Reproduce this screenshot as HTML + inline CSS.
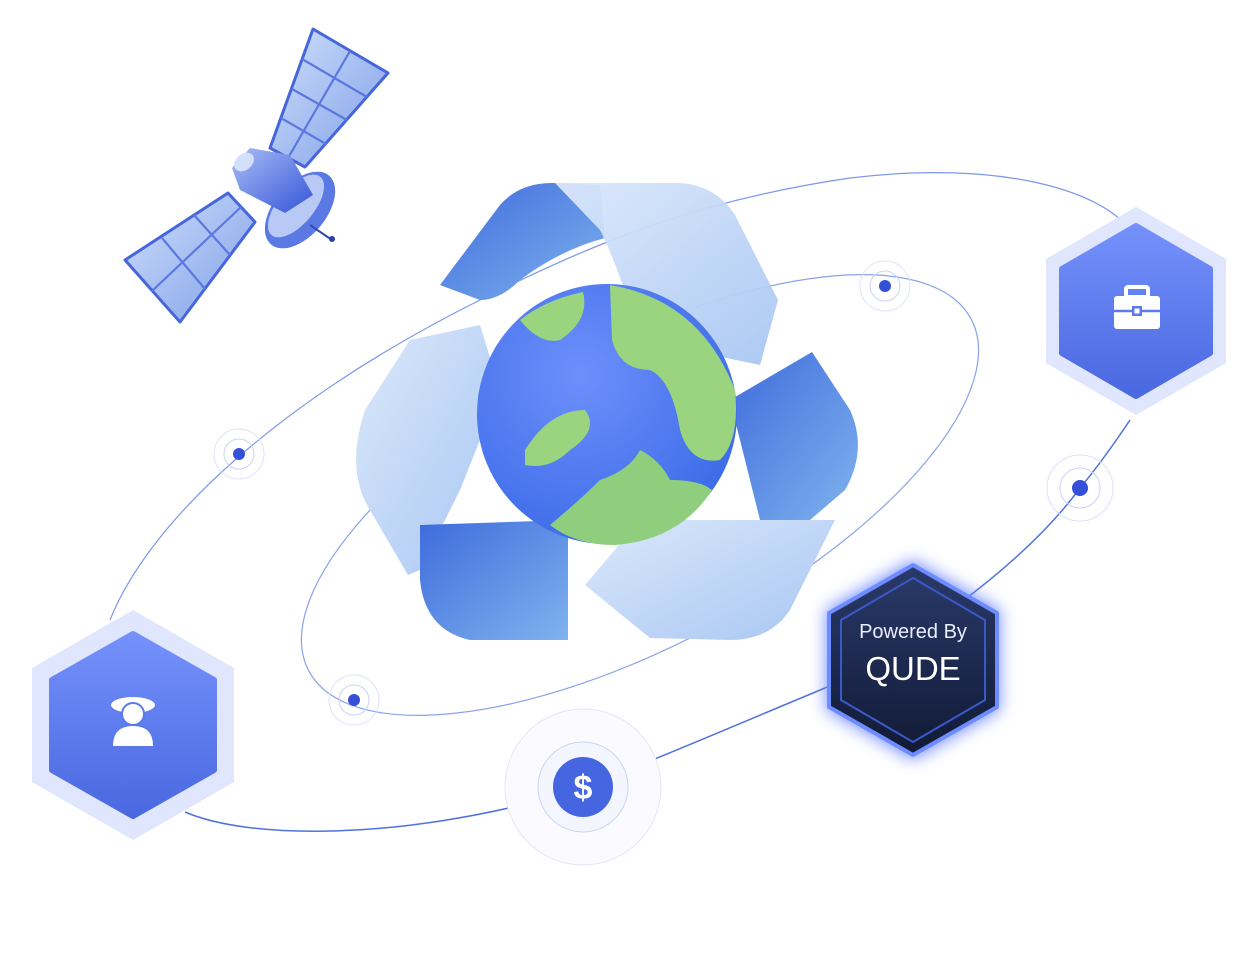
<!DOCTYPE html>
<html><head><meta charset="utf-8"><style>
html,body{margin:0;padding:0;background:#fff;}
svg{display:block;}
</style></head><body>
<svg width="1258" height="973" viewBox="0 0 1258 973" xmlns="http://www.w3.org/2000/svg">
<defs>
<linearGradient id="panel" x1="0" y1="0" x2="1" y2="1"><stop offset="0" stop-color="#cfe0fb"/><stop offset="1" stop-color="#7f9ee8"/></linearGradient>
<linearGradient id="hexg" x1="0" y1="0" x2="0" y2="1"><stop offset="0" stop-color="#7491fb"/><stop offset="1" stop-color="#4a68e0"/></linearGradient>
<linearGradient id="armA" x1="0" y1="0" x2="1" y2="1"><stop offset="0" stop-color="#3e6bdc"/><stop offset="1" stop-color="#7fb3ee"/></linearGradient>
<linearGradient id="armB" x1="0" y1="0" x2="1" y2="1"><stop offset="0" stop-color="#dbe8fb"/><stop offset="1" stop-color="#a8c6f2"/></linearGradient>
<radialGradient id="globe" cx="0.4" cy="0.35" r="0.7"><stop offset="0" stop-color="#6e8ffb"/><stop offset="1" stop-color="#3b6be8"/></radialGradient>
<linearGradient id="dark" x1="0" y1="0" x2="0" y2="1"><stop offset="0" stop-color="#2a3a6a"/><stop offset="1" stop-color="#111a35"/></linearGradient>
<linearGradient id="sat" x1="0" y1="0" x2="1" y2="1"><stop offset="0" stop-color="#a9bdf5"/><stop offset="1" stop-color="#3555d8"/></linearGradient>
<filter id="glow" x="-30%" y="-30%" width="160%" height="160%"><feGaussianBlur stdDeviation="8"/></filter>
</defs>

<g fill="none" stroke="#9fb2ee" stroke-width="1.2">
<ellipse cx="640" cy="495" rx="375" ry="150" transform="rotate(-28 640 495)" stroke="#8aa2ea"/>
<path d="M110,620 C150,520 280,400 480,300 C600,240 700,200 850,178 C1000,160 1100,190 1130,230" stroke="#7c97ea"/>
<path d="M1130,420 C1110,450 1095,470 1080,488 C1020,570 900,650 825,688 C700,740 620,775 560,795 C400,840 250,840 185,812" stroke="#4f72e0" stroke-width="1.5"/>
</g>

<!-- satellite -->
<g>
<polygon points="313,29 388,73 305,167 270,148" fill="url(#panel)" stroke="#4766dc" stroke-width="3" stroke-linejoin="round"/>
<g stroke="#5b78e0" stroke-width="2.2"><line x1="350" y1="51" x2="288" y2="158"/><line x1="302" y1="59" x2="367" y2="97"/><line x1="292" y1="89" x2="347" y2="120"/><line x1="281" y1="118" x2="326" y2="144"/></g>
<polygon points="228,193 255,222 180,322 125,260" fill="url(#panel)" stroke="#4766dc" stroke-width="3" stroke-linejoin="round"/>
<g stroke="#5b78e0" stroke-width="2.2"><line x1="241" y1="207" x2="152" y2="291"/><line x1="194" y1="215" x2="230" y2="255"/><line x1="162" y1="238" x2="205" y2="289"/></g>
<ellipse cx="300" cy="210" rx="45" ry="26" transform="rotate(-50 300 210)" fill="#5a79e3"/>
<ellipse cx="296" cy="206" rx="38" ry="18" transform="rotate(-50 296 206)" fill="#b8c9f6"/>
<line x1="310" y1="225" x2="332" y2="240" stroke="#3048b8" stroke-width="2"/>
<circle cx="332" cy="239" r="3" fill="#2a3fae"/>
<polygon points="250,148 290,155 313,195 285,213 240,190 232,168" fill="url(#sat)"/>
<ellipse cx="244" cy="162" rx="11" ry="8" transform="rotate(-40 244 162)" fill="#d3e0fb"/>
</g>

<!-- recycle arms -->
<path d="M440,285 L500,205 Q520,182 555,183 L600,185 L605,238 Q560,250 520,280 Q500,300 480,300 Z" fill="url(#armA)"/>
<path d="M555,183 L680,183 Q715,185 735,215 L778,300 L760,365 L640,340 Q620,270 600,230 Z" fill="url(#armB)" opacity="0.95"/>
<path d="M480,325 L500,390 L460,490 L420,570 L408,575 L370,510 Q345,470 365,410 L410,340 Z" fill="url(#armB)"/>
<path d="M420,525 L568,520 L568,640 L470,640 Q425,630 420,580 Z" fill="url(#armA)"/>
<path d="M730,400 L812,352 L850,410 Q868,450 845,490 L810,520 L760,520 Z" fill="url(#armA)"/>
<path d="M640,520 L835,520 L790,610 Q770,640 730,640 L650,638 L585,585 Z" fill="url(#armB)"/>

<!-- globe -->
<circle cx="607" cy="414" r="130" fill="url(#globe)"/>
<path d="M520,320 Q545,300 583,292 Q590,320 560,340 Q540,345 520,320 Z" fill="#9ad47f"/>
<path d="M610,285 Q700,300 735,390 Q740,440 720,460 Q690,465 680,430 Q672,380 650,370 Q620,370 612,340 Z" fill="#9ad47f"/>
<path d="M525,450 Q550,410 585,410 Q600,430 570,450 Q550,470 525,465 Z" fill="#9ad47f"/>
<path d="M550,525 Q580,500 600,480 Q630,470 640,450 Q660,460 670,480 Q700,480 712,490 Q680,540 615,545 Q575,545 550,525 Z" fill="#8fce7c"/>

<!-- hex top right -->
<polygon points="1136,207 1226,259 1226,363 1136,415 1046,363 1046,259" fill="#dfe6fd"/>
<polygon points="1136,226 1210,269 1210,353 1136,396 1062,353 1062,269" fill="url(#hexg)" stroke="url(#hexg)" stroke-width="6" stroke-linejoin="round"/>
<rect x="1114" y="296" width="46" height="33" rx="3" fill="#fff"/>
<rect x="1126" y="287" width="22" height="10" rx="2" fill="none" stroke="#fff" stroke-width="4"/>
<line x1="1114" y1="311" x2="1160" y2="311" stroke="#5b7aec" stroke-width="2.5"/>
<rect x="1132" y="306" width="10" height="10" fill="#5b7aec"/><rect x="1134.5" y="308.5" width="5" height="5" fill="#fff"/>

<!-- hex bottom left -->
<polygon points="133,610 234,668 234,782 133,840 32,782 32,668" fill="#dfe6fd"/>
<polygon points="133,634 214,680 214,770 133,816 52,770 52,680" fill="url(#hexg)" stroke="url(#hexg)" stroke-width="6" stroke-linejoin="round"/>
<ellipse cx="133" cy="705" rx="22" ry="8" fill="#fff"/>
<circle cx="133" cy="714" r="11" fill="#fff" stroke="#5b7aec" stroke-width="2"/>
<path d="M113,746 Q113,726 133,726 Q153,726 153,746 Z" fill="#fff"/>

<!-- dots -->
<g>
<circle cx="239" cy="454" r="25" fill="none" stroke="#dde3f8"/><circle cx="239" cy="454" r="15" fill="none" stroke="#c9d3f4"/><circle cx="239" cy="454" r="6" fill="#3550d8"/>
<circle cx="885" cy="286" r="25" fill="none" stroke="#dde3f8"/><circle cx="885" cy="286" r="15" fill="none" stroke="#c9d3f4"/><circle cx="885" cy="286" r="6" fill="#3550d8"/>
<circle cx="1080" cy="488" r="33" fill="none" stroke="#dde3f8"/><circle cx="1080" cy="488" r="20" fill="none" stroke="#c9d3f4"/><circle cx="1080" cy="488" r="8" fill="#3550d8"/>
<circle cx="354" cy="700" r="25" fill="none" stroke="#dde3f8"/><circle cx="354" cy="700" r="15" fill="none" stroke="#c9d3f4"/><circle cx="354" cy="700" r="6" fill="#3550d8"/>
<circle cx="583" cy="787" r="78" fill="#fbfbff" stroke="#e2e6f8"/>
<circle cx="583" cy="787" r="45" fill="#f4f6ff" stroke="#c9d3f4"/>
<circle cx="583" cy="787" r="30" fill="#4566e0"/>
<text x="583" y="799" text-anchor="middle" font-family="Liberation Sans, sans-serif" font-weight="bold" font-size="34" fill="#fff">$</text>
</g>

<!-- dark hex -->
<polygon points="913,560 1000,610 1000,710 913,760 826,710 826,610" fill="#5c78ff" filter="url(#glow)" opacity="0.8"/>
<polygon points="913,565 997,613 997,707 913,755 829,707 829,613" fill="url(#dark)" stroke="#6d8cff" stroke-width="4" stroke-linejoin="round"/>
<polygon points="913,578 985,620 985,700 913,742 841,700 841,620" fill="none" stroke="#3b58c8" stroke-width="2"/>
<text x="913" y="638" text-anchor="middle" font-family="Liberation Sans, sans-serif" font-size="20" fill="#e8eeff">Powered By</text>
<text x="913" y="680" text-anchor="middle" font-family="Liberation Sans, sans-serif" font-size="33" fill="#ffffff">QUDE</text>
</svg>
</body></html>
